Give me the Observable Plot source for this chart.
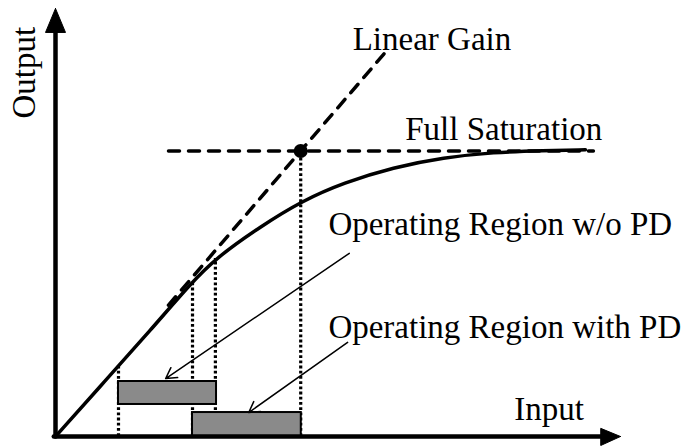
<!DOCTYPE html>
<html>
<head>
<meta charset="utf-8">
<script src="https://cdn.jsdelivr.net/npm/d3@7"></script>
<script src="https://cdn.jsdelivr.net/npm/@observablehq/plot@0.6"></script>
<style>
  html, body { margin: 0; padding: 0; background: #fff; }
  #chart svg { display: block; }
</style>
</head>
<body>
<div id="chart"></div>
<script>
// Amplifier transfer characteristic (conceptual units: input 0..100, output 0..100)
const curveInput  = [0, 8.85, 16.8, 23.9, 28.3, 36.3, 43.7, 51.0, 59.8, 68.7, 77.5, 86.4, 93.8];
const curveOutput = [0, 13.1, 24.8, 35.7, 41.6, 49.1, 55.1, 59.3, 62.9, 65.2, 66.4, 66.8, 67.0];

const linearGainInput  = [20, 58.6];
const linearGainOutput = [30.7, 90.1];

const saturationInput  = [20.0, 95.2];
const saturationLevel  = 66.7;

const saturationPointInput = 43.4;

const dropInput  = [11.15, 24.25, 28.3, 43.4];
const dropOutput = [16.8, 36.2, 41.6, 66.7];

const regionNames = ["Operating Region w/o PD", "Operating Region with PD"];
const regionInputStart = [11.15, 24.25];
const regionInputEnd   = [28.5, 43.5];
const regionOutputLow  = [7.48, 0];
const regionOutputHigh = [12.85, 5.6];

const arrowFromInput  = [52.0, 51.7];
const arrowFromOutput = [42.8, 22.0];
const arrowToInput    = [19.5, 34.2];
const arrowToOutput   = [13.55, 5.6];

const labelTexts  = ["Linear Gain", "Full Saturation", "Operating Region w/o PD", "Operating Region with PD", "Input"];
const labelInput  = [52.6, 61.9, 48.3, 48.3, 81.2];
const labelOutput = [90.3, 69.2, 47.0, 23.1, 3.74];

const axisTitleY = "Output";

const toRows = (xs, ys) => xs.map((x, i) => ({x, y: ys[i]}));

const curve = toRows(curveInput, curveOutput);
const linear = toRows(linearGainInput, linearGainOutput);
const saturation = saturationInput.map(x => ({x, y: saturationLevel}));
const drops = dropInput.map((x, i) => ({x, y1: 0, y2: dropOutput[i]}));
const regions = regionNames.map((name, i) => ({
  name, x1: regionInputStart[i], x2: regionInputEnd[i], y1: regionOutputLow[i], y2: regionOutputHigh[i]
}));
const arrows = regionNames.map((name, i) => ({
  x1: arrowFromInput[i], y1: arrowFromOutput[i], x2: arrowToInput[i], y2: arrowToOutput[i]
}));
const labels = labelTexts.map((text, i) => ({text, x: labelInput[i], y: labelOutput[i]}));

// axis arrows
const yAxisLine = [{x: 0, y: 0}, {x: 0, y: 95}];
const xAxisLine = [{x: -0.3, y: 0}, {x: 97, y: 0}];
const yHead = [{x: 0, y: 100}, {x: -1.77, y: 94.4}, {x: 1.77, y: 94.4}, {x: 0, y: 100}];
const xHead = [{x: 100, y: 0}, {x: 96.5, y: 1.9}, {x: 96.5, y: -2.1}, {x: 100, y: 0}];

const font = "'Liberation Serif', 'Times New Roman', Times, serif";

const chart = Plot.plot({
  width: 686,
  height: 446,
  margin: 0,
  style: {background: "#fff", fontFamily: font},
  x: {domain: [0, 100], range: [55, 620], axis: null},
  y: {domain: [0, 100], range: [436, 8], axis: null},
  marks: [
    // dotted drop lines
    Plot.ruleX(drops, {x: "x", y1: "y1", y2: "y2", stroke: "#000", strokeWidth: 3.2, strokeDasharray: "2.8 2.4"}),
    // operating regions
    Plot.rect(regions, {x1: "x1", x2: "x2", y1: "y1", y2: "y2", fill: "#8a8a8a", stroke: "#000", strokeWidth: 2}),
    // linear gain
    Plot.line(linear, {x: "x", y: "y", stroke: "#000", strokeWidth: 3.5, strokeDasharray: "11 9"}),
    // saturation
    Plot.line(saturation, {x: "x", y: "y", stroke: "#000", strokeWidth: 3.5, strokeDasharray: "11 9"}),
    // transfer curve
    Plot.line(curve, {x: "x", y: "y", curve: "basis", stroke: "#000", strokeWidth: 3.5}),
    // saturation point
    Plot.dot([{x: saturationPointInput, y: saturationLevel}], {x: "x", y: "y", r: 7, fill: "#000"}),
    // annotation arrows
    Plot.arrow(arrows, {x1: "x1", y1: "y1", x2: "x2", y2: "y2", stroke: "#000", strokeWidth: 1.5, headLength: 12}),
    // axes
    Plot.line(yAxisLine, {x: "x", y: "y", stroke: "#000", strokeWidth: 4.5}),
    Plot.line(xAxisLine, {x: "x", y: "y", stroke: "#000", strokeWidth: 4.5}),
    Plot.line(yHead, {x: "x", y: "y", fill: "#000", stroke: "#000", strokeWidth: 1}),
    Plot.line(xHead, {x: "x", y: "y", fill: "#000", stroke: "#000", strokeWidth: 1}),
    // labels
    Plot.text(labels, {x: "x", y: "y", text: "text", textAnchor: "start", lineAnchor: "bottom", fontSize: 33, fill: "#000"}),
    Plot.text([{x: -3.54, y: 74.3}], {x: "x", y: "y", text: () => axisTitleY, rotate: -90, textAnchor: "start", lineAnchor: "bottom", fontSize: 33, fill: "#000"})
  ]
});

document.getElementById("chart").appendChild(chart);
</script>
</body>
</html>
